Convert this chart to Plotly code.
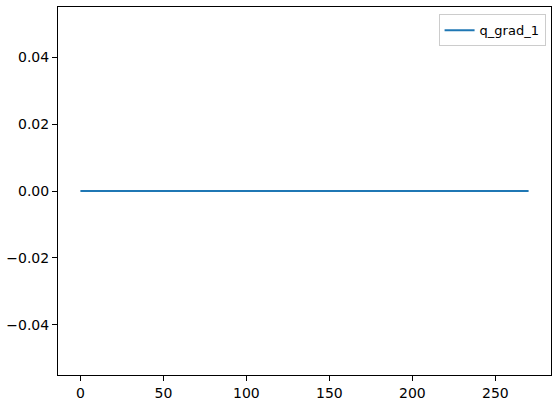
import plotly.graph_objects as go

# q_grad_1 stays at zero over all 271 steps
steps = list(range(271))
q_grad_1 = [0.0] * 271

x_ticks = [0, 50, 100, 150, 200, 250]
y_ticks = [-0.04, -0.02, 0.0, 0.02, 0.04]

fig = go.Figure()
fig.add_trace(
    go.Scatter(
        x=steps,
        y=q_grad_1,
        name="q_grad_1",
        mode="lines",
        line={"color": "#1f77b4", "width": 2},
    )
)

axis_style = dict(
    showline=True,
    linecolor="black",
    linewidth=1,
    mirror=True,
    ticks="outside",
    ticklen=5,
    tickcolor="black",
    showgrid=False,
    zeroline=False,
    tickfont=dict(size=14, color="black"),
)

fig.update_layout(
    width=558,
    height=408,
    margin={"l": 57, "r": 6, "t": 7, "b": 33},
    paper_bgcolor="white",
    plot_bgcolor="white",
    font=dict(family="DejaVu Sans", size=14, color="black"),
    showlegend=True,
    legend=dict(
        x=0.989,
        y=0.98,
        xanchor="right",
        yanchor="top",
        bordercolor="#cccccc",
        borderwidth=1,
        bgcolor="white",
        font=dict(size=13),
    ),
    xaxis=dict(range=[-13.5, 283.5], tickvals=x_ticks, **axis_style),
    yaxis=dict(range=[-0.055, 0.055], tickvals=y_ticks, tickformat=".2f", **axis_style),
)

# drop the default page margin so the figure sits at the window corner
fig.write_html(
    "out.html",
    config={"displayModeBar": False},
    post_script="document.body.style.margin='0';",
)
